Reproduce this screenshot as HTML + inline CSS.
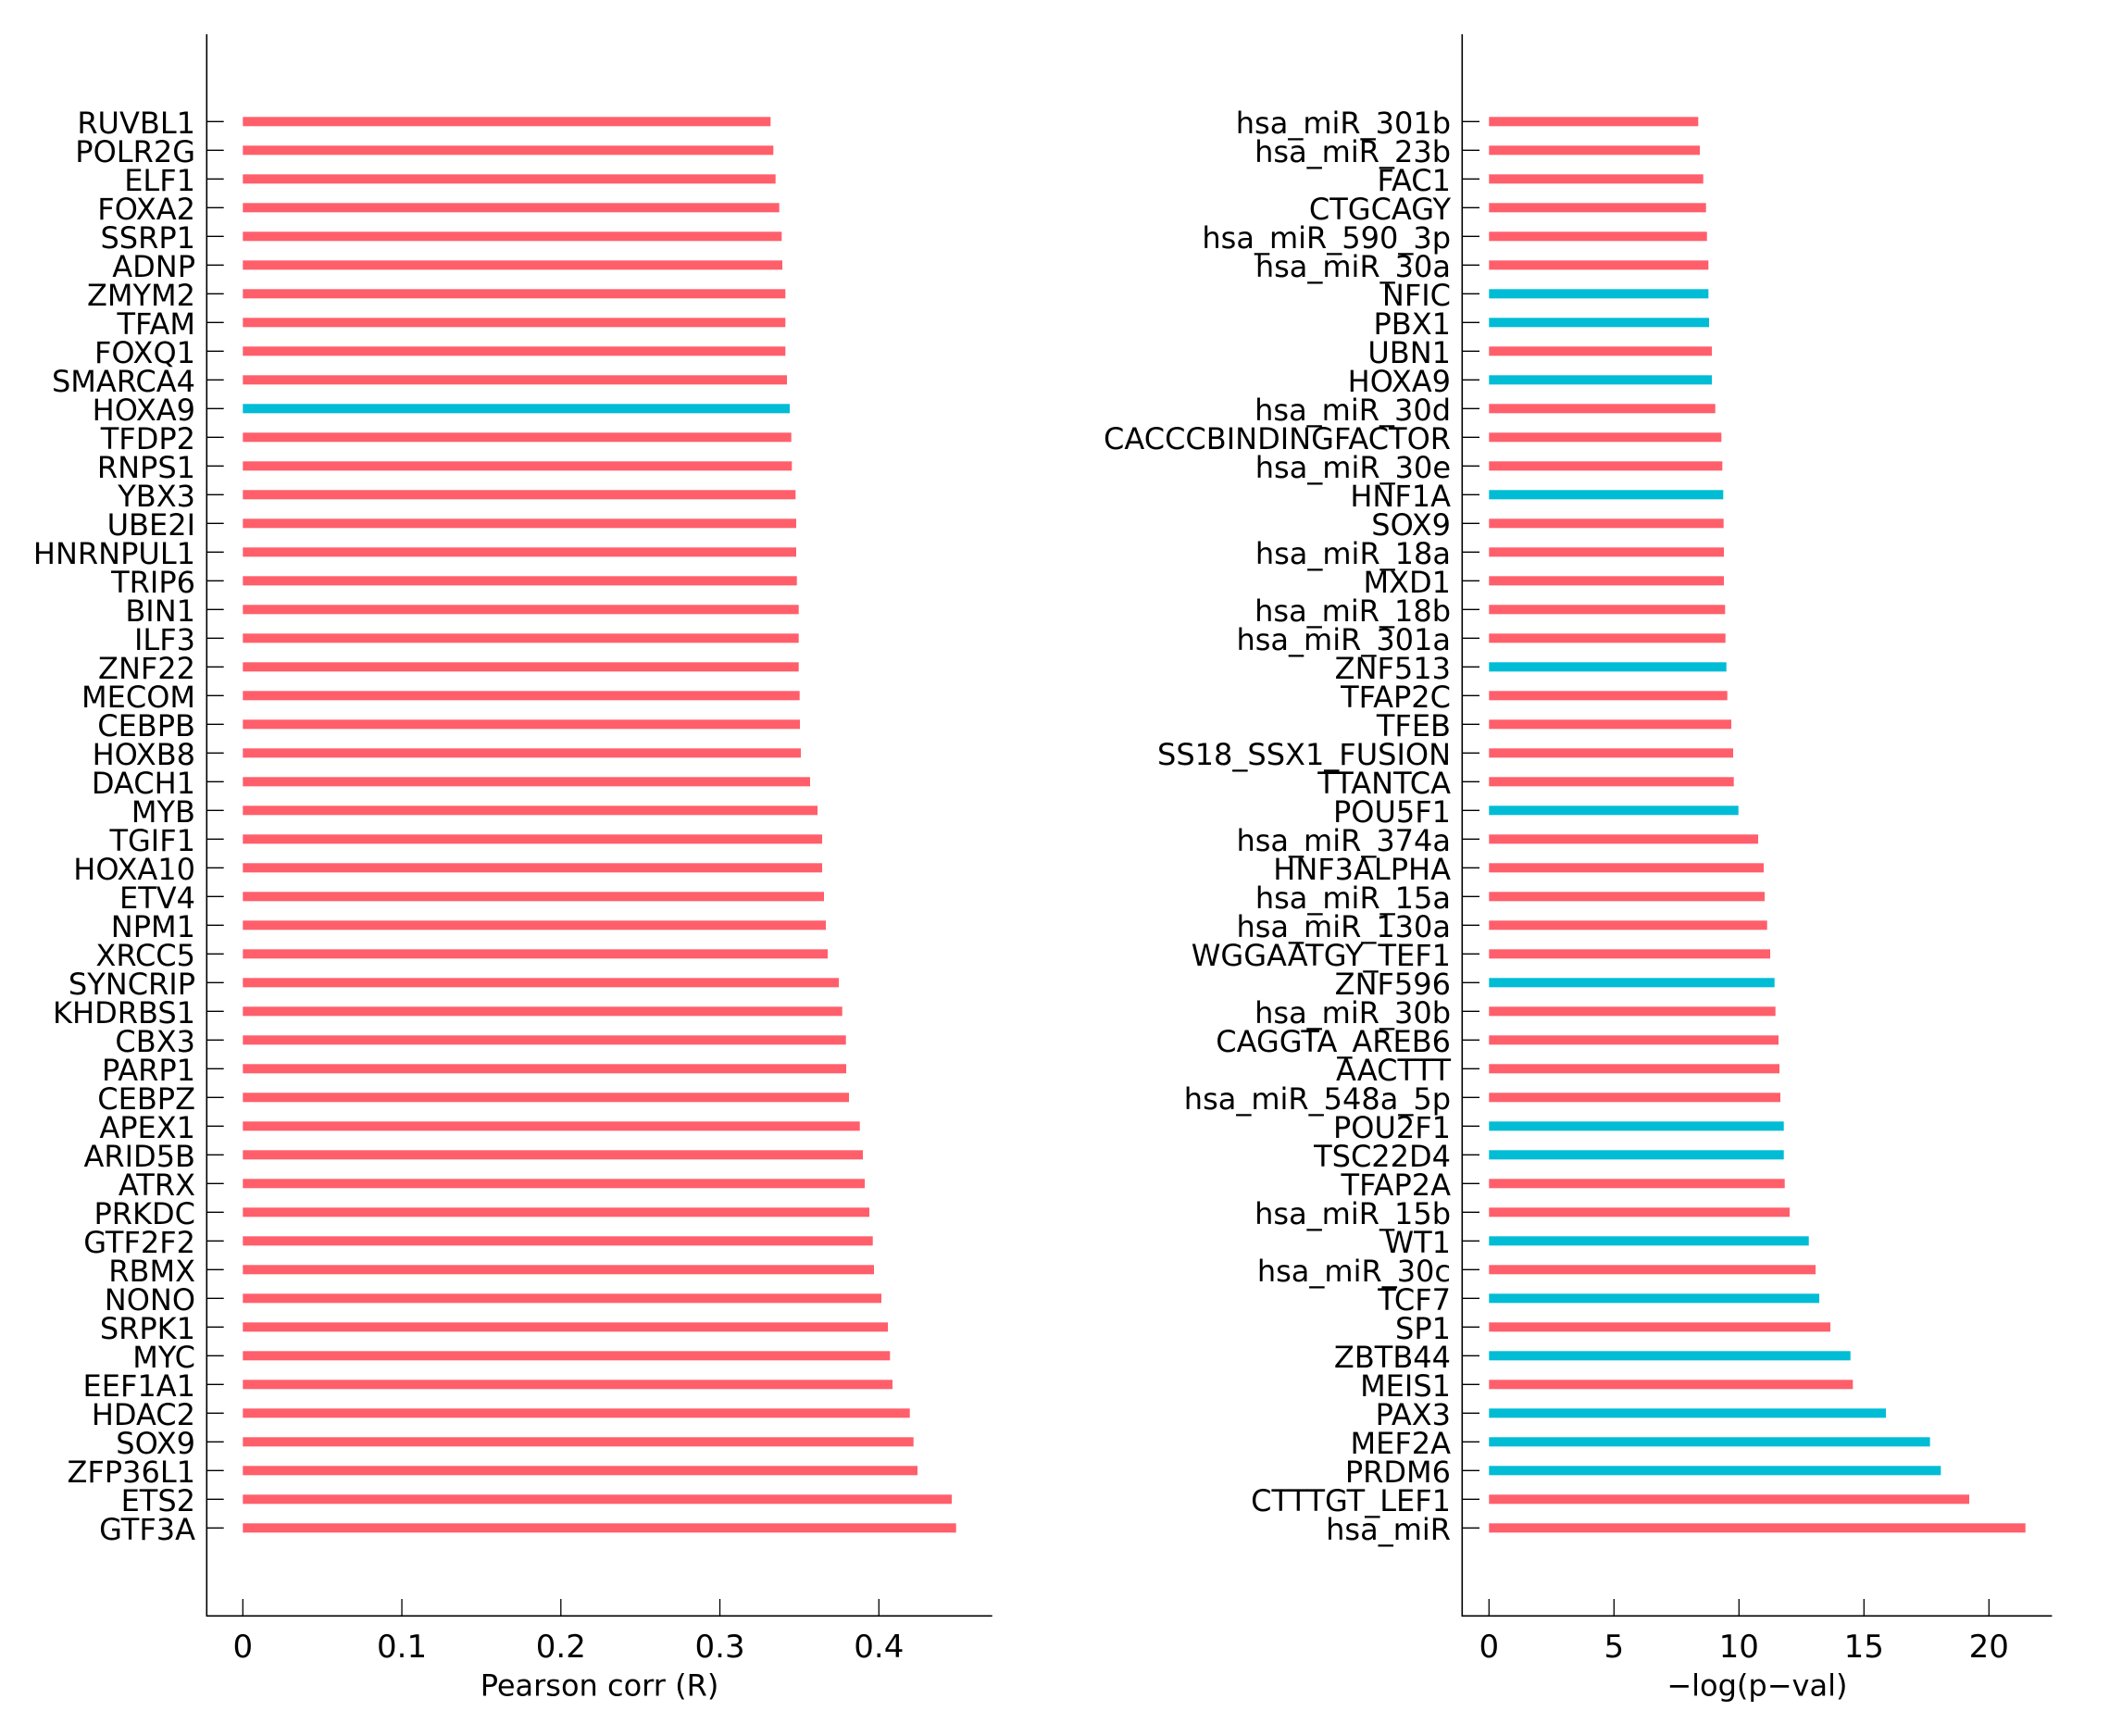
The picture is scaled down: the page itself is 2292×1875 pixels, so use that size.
<!DOCTYPE html>
<html><head><meta charset="utf-8"><style>
html,body{margin:0;padding:0;background:#fff;}
svg{display:block;}
text{font-family:"DejaVu Sans","Liberation Sans",sans-serif;fill:#000;}
.r{fill:#ff5f6b}.b{fill:#00bcd5}
.lab{font-size:32px;text-anchor:end}
.tk{stroke:#000;stroke-width:1.3}
.ax{stroke:#000;stroke-width:1.6;fill:none}
.tl{font-size:34px;text-anchor:middle}
.xl{font-size:32px;text-anchor:middle}
</style></head><body>
<svg width="2292" height="1875" viewBox="0 0 2292 1875" xmlns="http://www.w3.org/2000/svg">
<rect width="2292" height="1875" fill="#fff"/>
<!-- LEFT PANEL -->
<g id="L">
<g transform="translate(0,131.3)"><rect class="r" x="262.3" y="-5" width="570" height="10"/><line class="tk" x1="223.3" x2="241.7" y1="0" y2="0"/><text class="lab" x="211" y="12.5">RUVBL1</text></g>
<g transform="translate(0,162.3)"><rect class="r" x="262.3" y="-5" width="573" height="10"/><line class="tk" x1="223.3" x2="241.7" y1="0" y2="0"/><text class="lab" x="211" y="12.5">POLR2G</text></g>
<g transform="translate(0,193.3)"><rect class="r" x="262.3" y="-5" width="575.4" height="10"/><line class="tk" x1="223.3" x2="241.7" y1="0" y2="0"/><text class="lab" x="211" y="12.5">ELF1</text></g>
<g transform="translate(0,224.3)"><rect class="r" x="262.3" y="-5" width="579.4" height="10"/><line class="tk" x1="223.3" x2="241.7" y1="0" y2="0"/><text class="lab" x="211" y="12.5">FOXA2</text></g>
<g transform="translate(0,255.3)"><rect class="r" x="262.3" y="-5" width="582" height="10"/><line class="tk" x1="223.3" x2="241.7" y1="0" y2="0"/><text class="lab" x="211" y="12.5">SSRP1</text></g>
<g transform="translate(0,286.3)"><rect class="r" x="262.3" y="-5" width="582.7" height="10"/><line class="tk" x1="223.3" x2="241.7" y1="0" y2="0"/><text class="lab" x="211" y="12.5">ADNP</text></g>
<g transform="translate(0,317.3)"><rect class="r" x="262.3" y="-5" width="586" height="10"/><line class="tk" x1="223.3" x2="241.7" y1="0" y2="0"/><text class="lab" x="211" y="12.5">ZMYM2</text></g>
<g transform="translate(0,348.3)"><rect class="r" x="262.3" y="-5" width="586" height="10"/><line class="tk" x1="223.3" x2="241.7" y1="0" y2="0"/><text class="lab" x="211" y="12.5">TFAM</text></g>
<g transform="translate(0,379.3)"><rect class="r" x="262.3" y="-5" width="586" height="10"/><line class="tk" x1="223.3" x2="241.7" y1="0" y2="0"/><text class="lab" x="211" y="12.5">FOXQ1</text></g>
<g transform="translate(0,410.3)"><rect class="r" x="262.3" y="-5" width="587.7" height="10"/><line class="tk" x1="223.3" x2="241.7" y1="0" y2="0"/><text class="lab" x="211" y="12.5">SMARCA4</text></g>
<g transform="translate(0,441.3)"><rect class="b" x="262.3" y="-5" width="590.7" height="10"/><line class="tk" x1="223.3" x2="241.7" y1="0" y2="0"/><text class="lab" x="211" y="12.5">HOXA9</text></g>
<g transform="translate(0,472.3)"><rect class="r" x="262.3" y="-5" width="592.4" height="10"/><line class="tk" x1="223.3" x2="241.7" y1="0" y2="0"/><text class="lab" x="211" y="12.5">TFDP2</text></g>
<g transform="translate(0,503.3)"><rect class="r" x="262.3" y="-5" width="593" height="10"/><line class="tk" x1="223.3" x2="241.7" y1="0" y2="0"/><text class="lab" x="211" y="12.5">RNPS1</text></g>
<g transform="translate(0,534.3)"><rect class="r" x="262.3" y="-5" width="597" height="10"/><line class="tk" x1="223.3" x2="241.7" y1="0" y2="0"/><text class="lab" x="211" y="12.5">YBX3</text></g>
<g transform="translate(0,565.3)"><rect class="r" x="262.3" y="-5" width="597.7" height="10"/><line class="tk" x1="223.3" x2="241.7" y1="0" y2="0"/><text class="lab" x="211" y="12.5">UBE2I</text></g>
<g transform="translate(0,596.3)"><rect class="r" x="262.3" y="-5" width="597.7" height="10"/><line class="tk" x1="223.3" x2="241.7" y1="0" y2="0"/><text class="lab" x="211" y="12.5">HNRNPUL1</text></g>
<g transform="translate(0,627.3)"><rect class="r" x="262.3" y="-5" width="598.4" height="10"/><line class="tk" x1="223.3" x2="241.7" y1="0" y2="0"/><text class="lab" x="211" y="12.5">TRIP6</text></g>
<g transform="translate(0,658.3)"><rect class="r" x="262.3" y="-5" width="600.4" height="10"/><line class="tk" x1="223.3" x2="241.7" y1="0" y2="0"/><text class="lab" x="211" y="12.5">BIN1</text></g>
<g transform="translate(0,689.3)"><rect class="r" x="262.3" y="-5" width="600.4" height="10"/><line class="tk" x1="223.3" x2="241.7" y1="0" y2="0"/><text class="lab" x="211" y="12.5">ILF3</text></g>
<g transform="translate(0,720.3)"><rect class="r" x="262.3" y="-5" width="600.4" height="10"/><line class="tk" x1="223.3" x2="241.7" y1="0" y2="0"/><text class="lab" x="211" y="12.5">ZNF22</text></g>
<g transform="translate(0,751.3)"><rect class="r" x="262.3" y="-5" width="601.4" height="10"/><line class="tk" x1="223.3" x2="241.7" y1="0" y2="0"/><text class="lab" x="211" y="12.5">MECOM</text></g>
<g transform="translate(0,782.3)"><rect class="r" x="262.3" y="-5" width="601.7" height="10"/><line class="tk" x1="223.3" x2="241.7" y1="0" y2="0"/><text class="lab" x="211" y="12.5">CEBPB</text></g>
<g transform="translate(0,813.3)"><rect class="r" x="262.3" y="-5" width="602.7" height="10"/><line class="tk" x1="223.3" x2="241.7" y1="0" y2="0"/><text class="lab" x="211" y="12.5">HOXB8</text></g>
<g transform="translate(0,844.3)"><rect class="r" x="262.3" y="-5" width="612.7" height="10"/><line class="tk" x1="223.3" x2="241.7" y1="0" y2="0"/><text class="lab" x="211" y="12.5">DACH1</text></g>
<g transform="translate(0,875.3)"><rect class="r" x="262.3" y="-5" width="620.7" height="10"/><line class="tk" x1="223.3" x2="241.7" y1="0" y2="0"/><text class="lab" x="211" y="12.5">MYB</text></g>
<g transform="translate(0,906.3)"><rect class="r" x="262.3" y="-5" width="625.7" height="10"/><line class="tk" x1="223.3" x2="241.7" y1="0" y2="0"/><text class="lab" x="211" y="12.5">TGIF1</text></g>
<g transform="translate(0,937.3)"><rect class="r" x="262.3" y="-5" width="625.7" height="10"/><line class="tk" x1="223.3" x2="241.7" y1="0" y2="0"/><text class="lab" x="211" y="12.5">HOXA10</text></g>
<g transform="translate(0,968.3)"><rect class="r" x="262.3" y="-5" width="627.7" height="10"/><line class="tk" x1="223.3" x2="241.7" y1="0" y2="0"/><text class="lab" x="211" y="12.5">ETV4</text></g>
<g transform="translate(0,999.3)"><rect class="r" x="262.3" y="-5" width="629.7" height="10"/><line class="tk" x1="223.3" x2="241.7" y1="0" y2="0"/><text class="lab" x="211" y="12.5">NPM1</text></g>
<g transform="translate(0,1030.3)"><rect class="r" x="262.3" y="-5" width="631.7" height="10"/><line class="tk" x1="223.3" x2="241.7" y1="0" y2="0"/><text class="lab" x="211" y="12.5">XRCC5</text></g>
<g transform="translate(0,1061.3)"><rect class="r" x="262.3" y="-5" width="643.7" height="10"/><line class="tk" x1="223.3" x2="241.7" y1="0" y2="0"/><text class="lab" x="211" y="12.5">SYNCRIP</text></g>
<g transform="translate(0,1092.3)"><rect class="r" x="262.3" y="-5" width="647.4" height="10"/><line class="tk" x1="223.3" x2="241.7" y1="0" y2="0"/><text class="lab" x="211" y="12.5">KHDRBS1</text></g>
<g transform="translate(0,1123.3)"><rect class="r" x="262.3" y="-5" width="651.4" height="10"/><line class="tk" x1="223.3" x2="241.7" y1="0" y2="0"/><text class="lab" x="211" y="12.5">CBX3</text></g>
<g transform="translate(0,1154.3)"><rect class="r" x="262.3" y="-5" width="651.7" height="10"/><line class="tk" x1="223.3" x2="241.7" y1="0" y2="0"/><text class="lab" x="211" y="12.5">PARP1</text></g>
<g transform="translate(0,1185.3)"><rect class="r" x="262.3" y="-5" width="654.7" height="10"/><line class="tk" x1="223.3" x2="241.7" y1="0" y2="0"/><text class="lab" x="211" y="12.5">CEBPZ</text></g>
<g transform="translate(0,1216.3)"><rect class="r" x="262.3" y="-5" width="666.4" height="10"/><line class="tk" x1="223.3" x2="241.7" y1="0" y2="0"/><text class="lab" x="211" y="12.5">APEX1</text></g>
<g transform="translate(0,1247.3)"><rect class="r" x="262.3" y="-5" width="669.7" height="10"/><line class="tk" x1="223.3" x2="241.7" y1="0" y2="0"/><text class="lab" x="211" y="12.5">ARID5B</text></g>
<g transform="translate(0,1278.3)"><rect class="r" x="262.3" y="-5" width="671.7" height="10"/><line class="tk" x1="223.3" x2="241.7" y1="0" y2="0"/><text class="lab" x="211" y="12.5">ATRX</text></g>
<g transform="translate(0,1309.3)"><rect class="r" x="262.3" y="-5" width="676.7" height="10"/><line class="tk" x1="223.3" x2="241.7" y1="0" y2="0"/><text class="lab" x="211" y="12.5">PRKDC</text></g>
<g transform="translate(0,1340.3)"><rect class="r" x="262.3" y="-5" width="680.4" height="10"/><line class="tk" x1="223.3" x2="241.7" y1="0" y2="0"/><text class="lab" x="211" y="12.5">GTF2F2</text></g>
<g transform="translate(0,1371.3)"><rect class="r" x="262.3" y="-5" width="681.7" height="10"/><line class="tk" x1="223.3" x2="241.7" y1="0" y2="0"/><text class="lab" x="211" y="12.5">RBMX</text></g>
<g transform="translate(0,1402.3)"><rect class="r" x="262.3" y="-5" width="689.7" height="10"/><line class="tk" x1="223.3" x2="241.7" y1="0" y2="0"/><text class="lab" x="211" y="12.5">NONO</text></g>
<g transform="translate(0,1433.3)"><rect class="r" x="262.3" y="-5" width="696.7" height="10"/><line class="tk" x1="223.3" x2="241.7" y1="0" y2="0"/><text class="lab" x="211" y="12.5">SRPK1</text></g>
<g transform="translate(0,1464.3)"><rect class="r" x="262.3" y="-5" width="699" height="10"/><line class="tk" x1="223.3" x2="241.7" y1="0" y2="0"/><text class="lab" x="211" y="12.5">MYC</text></g>
<g transform="translate(0,1495.3)"><rect class="r" x="262.3" y="-5" width="701.7" height="10"/><line class="tk" x1="223.3" x2="241.7" y1="0" y2="0"/><text class="lab" x="211" y="12.5">EEF1A1</text></g>
<g transform="translate(0,1526.3)"><rect class="r" x="262.3" y="-5" width="720.4" height="10"/><line class="tk" x1="223.3" x2="241.7" y1="0" y2="0"/><text class="lab" x="211" y="12.5">HDAC2</text></g>
<g transform="translate(0,1557.3)"><rect class="r" x="262.3" y="-5" width="724.4" height="10"/><line class="tk" x1="223.3" x2="241.7" y1="0" y2="0"/><text class="lab" x="211" y="12.5">SOX9</text></g>
<g transform="translate(0,1588.3)"><rect class="r" x="262.3" y="-5" width="728.7" height="10"/><line class="tk" x1="223.3" x2="241.7" y1="0" y2="0"/><text class="lab" x="211" y="12.5">ZFP36L1</text></g>
<g transform="translate(0,1619.3)"><rect class="r" x="262.3" y="-5" width="765.7" height="10"/><line class="tk" x1="223.3" x2="241.7" y1="0" y2="0"/><text class="lab" x="211" y="12.5">ETS2</text></g>
<g transform="translate(0,1650.3)"><rect class="r" x="262.3" y="-5" width="770.4" height="10"/><line class="tk" x1="223.3" x2="241.7" y1="0" y2="0"/><text class="lab" x="211" y="12.5">GTF3A</text></g>
</g>
<path class="ax" d="M223.3 37 L223.3 1745.3 L1071.7 1745.3"/>
<line class="tk" x1="262.3" x2="262.3" y1="1727" y2="1745.3"/>
<line class="tk" x1="434.05" x2="434.05" y1="1727" y2="1745.3"/>
<line class="tk" x1="605.8" x2="605.8" y1="1727" y2="1745.3"/>
<line class="tk" x1="777.55" x2="777.55" y1="1727" y2="1745.3"/>
<line class="tk" x1="949.3" x2="949.3" y1="1727" y2="1745.3"/>
<text class="tl" x="262.3" y="1790">0</text>
<text class="tl" x="434.05" y="1790">0.1</text>
<text class="tl" x="605.8" y="1790">0.2</text>
<text class="tl" x="777.55" y="1790">0.3</text>
<text class="tl" x="949.3" y="1790">0.4</text>
<text class="xl" x="647.5" y="1831.7">Pearson corr (R)</text>

<!-- RIGHT PANEL -->
<g id="R">
<g transform="translate(0,131.3)"><rect class="r" x="1608.3" y="-5" width="226" height="10"/><line class="tk" x1="1579.3" x2="1598" y1="0" y2="0"/><text class="lab" x="1567" y="12.5">hsa_miR_301b</text></g>
<g transform="translate(0,162.3)"><rect class="r" x="1608.3" y="-5" width="227.7" height="10"/><line class="tk" x1="1579.3" x2="1598" y1="0" y2="0"/><text class="lab" x="1567" y="12.5">hsa_miR_23b</text></g>
<g transform="translate(0,193.3)"><rect class="r" x="1608.3" y="-5" width="231.4" height="10"/><line class="tk" x1="1579.3" x2="1598" y1="0" y2="0"/><text class="lab" x="1567" y="12.5">FAC1</text></g>
<g transform="translate(0,224.3)"><rect class="r" x="1608.3" y="-5" width="234.4" height="10"/><line class="tk" x1="1579.3" x2="1598" y1="0" y2="0"/><text class="lab" x="1567" y="12.5">CTGCAGY</text></g>
<g transform="translate(0,255.3)"><rect class="r" x="1608.3" y="-5" width="235.4" height="10"/><line class="tk" x1="1579.3" x2="1598" y1="0" y2="0"/><text class="lab" x="1567" y="12.5">hsa_miR_590_3p</text></g>
<g transform="translate(0,286.3)"><rect class="r" x="1608.3" y="-5" width="237" height="10"/><line class="tk" x1="1579.3" x2="1598" y1="0" y2="0"/><text class="lab" x="1567" y="12.5">hsa_miR_30a</text></g>
<g transform="translate(0,317.3)"><rect class="b" x="1608.3" y="-5" width="237" height="10"/><line class="tk" x1="1579.3" x2="1598" y1="0" y2="0"/><text class="lab" x="1567" y="12.5">NFIC</text></g>
<g transform="translate(0,348.3)"><rect class="b" x="1608.3" y="-5" width="237.7" height="10"/><line class="tk" x1="1579.3" x2="1598" y1="0" y2="0"/><text class="lab" x="1567" y="12.5">PBX1</text></g>
<g transform="translate(0,379.3)"><rect class="r" x="1608.3" y="-5" width="240.7" height="10"/><line class="tk" x1="1579.3" x2="1598" y1="0" y2="0"/><text class="lab" x="1567" y="12.5">UBN1</text></g>
<g transform="translate(0,410.3)"><rect class="b" x="1608.3" y="-5" width="240.7" height="10"/><line class="tk" x1="1579.3" x2="1598" y1="0" y2="0"/><text class="lab" x="1567" y="12.5">HOXA9</text></g>
<g transform="translate(0,441.3)"><rect class="r" x="1608.3" y="-5" width="244.4" height="10"/><line class="tk" x1="1579.3" x2="1598" y1="0" y2="0"/><text class="lab" x="1567" y="12.5">hsa_miR_30d</text></g>
<g transform="translate(0,472.3)"><rect class="r" x="1608.3" y="-5" width="251" height="10"/><line class="tk" x1="1579.3" x2="1598" y1="0" y2="0"/><text class="lab" x="1567" y="12.5">CACCCBINDINGFACTOR</text></g>
<g transform="translate(0,503.3)"><rect class="r" x="1608.3" y="-5" width="252" height="10"/><line class="tk" x1="1579.3" x2="1598" y1="0" y2="0"/><text class="lab" x="1567" y="12.5">hsa_miR_30e</text></g>
<g transform="translate(0,534.3)"><rect class="b" x="1608.3" y="-5" width="253" height="10"/><line class="tk" x1="1579.3" x2="1598" y1="0" y2="0"/><text class="lab" x="1567" y="12.5">HNF1A</text></g>
<g transform="translate(0,565.3)"><rect class="r" x="1608.3" y="-5" width="253.4" height="10"/><line class="tk" x1="1579.3" x2="1598" y1="0" y2="0"/><text class="lab" x="1567" y="12.5">SOX9</text></g>
<g transform="translate(0,596.3)"><rect class="r" x="1608.3" y="-5" width="253.7" height="10"/><line class="tk" x1="1579.3" x2="1598" y1="0" y2="0"/><text class="lab" x="1567" y="12.5">hsa_miR_18a</text></g>
<g transform="translate(0,627.3)"><rect class="r" x="1608.3" y="-5" width="253.7" height="10"/><line class="tk" x1="1579.3" x2="1598" y1="0" y2="0"/><text class="lab" x="1567" y="12.5">MXD1</text></g>
<g transform="translate(0,658.3)"><rect class="r" x="1608.3" y="-5" width="255" height="10"/><line class="tk" x1="1579.3" x2="1598" y1="0" y2="0"/><text class="lab" x="1567" y="12.5">hsa_miR_18b</text></g>
<g transform="translate(0,689.3)"><rect class="r" x="1608.3" y="-5" width="255.4" height="10"/><line class="tk" x1="1579.3" x2="1598" y1="0" y2="0"/><text class="lab" x="1567" y="12.5">hsa_miR_301a</text></g>
<g transform="translate(0,720.3)"><rect class="b" x="1608.3" y="-5" width="256.4" height="10"/><line class="tk" x1="1579.3" x2="1598" y1="0" y2="0"/><text class="lab" x="1567" y="12.5">ZNF513</text></g>
<g transform="translate(0,751.3)"><rect class="r" x="1608.3" y="-5" width="257.4" height="10"/><line class="tk" x1="1579.3" x2="1598" y1="0" y2="0"/><text class="lab" x="1567" y="12.5">TFAP2C</text></g>
<g transform="translate(0,782.3)"><rect class="r" x="1608.3" y="-5" width="261.7" height="10"/><line class="tk" x1="1579.3" x2="1598" y1="0" y2="0"/><text class="lab" x="1567" y="12.5">TFEB</text></g>
<g transform="translate(0,813.3)"><rect class="r" x="1608.3" y="-5" width="263.7" height="10"/><line class="tk" x1="1579.3" x2="1598" y1="0" y2="0"/><text class="lab" x="1567" y="12.5">SS18_SSX1_FUSION</text></g>
<g transform="translate(0,844.3)"><rect class="r" x="1608.3" y="-5" width="264.4" height="10"/><line class="tk" x1="1579.3" x2="1598" y1="0" y2="0"/><text class="lab" x="1567" y="12.5">TTANTCA</text></g>
<g transform="translate(0,875.3)"><rect class="b" x="1608.3" y="-5" width="269.4" height="10"/><line class="tk" x1="1579.3" x2="1598" y1="0" y2="0"/><text class="lab" x="1567" y="12.5">POU5F1</text></g>
<g transform="translate(0,906.3)"><rect class="r" x="1608.3" y="-5" width="290.7" height="10"/><line class="tk" x1="1579.3" x2="1598" y1="0" y2="0"/><text class="lab" x="1567" y="12.5">hsa_miR_374a</text></g>
<g transform="translate(0,937.3)"><rect class="r" x="1608.3" y="-5" width="296.7" height="10"/><line class="tk" x1="1579.3" x2="1598" y1="0" y2="0"/><text class="lab" x="1567" y="12.5">HNF3ALPHA</text></g>
<g transform="translate(0,968.3)"><rect class="r" x="1608.3" y="-5" width="297.7" height="10"/><line class="tk" x1="1579.3" x2="1598" y1="0" y2="0"/><text class="lab" x="1567" y="12.5">hsa_miR_15a</text></g>
<g transform="translate(0,999.3)"><rect class="r" x="1608.3" y="-5" width="300.4" height="10"/><line class="tk" x1="1579.3" x2="1598" y1="0" y2="0"/><text class="lab" x="1567" y="12.5">hsa_miR_130a</text></g>
<g transform="translate(0,1030.3)"><rect class="r" x="1608.3" y="-5" width="303.7" height="10"/><line class="tk" x1="1579.3" x2="1598" y1="0" y2="0"/><text class="lab" x="1567" y="12.5">WGGAATGY_TEF1</text></g>
<g transform="translate(0,1061.3)"><rect class="b" x="1608.3" y="-5" width="308.4" height="10"/><line class="tk" x1="1579.3" x2="1598" y1="0" y2="0"/><text class="lab" x="1567" y="12.5">ZNF596</text></g>
<g transform="translate(0,1092.3)"><rect class="r" x="1608.3" y="-5" width="309.4" height="10"/><line class="tk" x1="1579.3" x2="1598" y1="0" y2="0"/><text class="lab" x="1567" y="12.5">hsa_miR_30b</text></g>
<g transform="translate(0,1123.3)"><rect class="r" x="1608.3" y="-5" width="312.7" height="10"/><line class="tk" x1="1579.3" x2="1598" y1="0" y2="0"/><text class="lab" x="1567" y="12.5">CAGGTA_AREB6</text></g>
<g transform="translate(0,1154.3)"><rect class="r" x="1608.3" y="-5" width="313.7" height="10"/><line class="tk" x1="1579.3" x2="1598" y1="0" y2="0"/><text class="lab" x="1567" y="12.5">AACTTT</text></g>
<g transform="translate(0,1185.3)"><rect class="r" x="1608.3" y="-5" width="314.7" height="10"/><line class="tk" x1="1579.3" x2="1598" y1="0" y2="0"/><text class="lab" x="1567" y="12.5">hsa_miR_548a_5p</text></g>
<g transform="translate(0,1216.3)"><rect class="b" x="1608.3" y="-5" width="318.4" height="10"/><line class="tk" x1="1579.3" x2="1598" y1="0" y2="0"/><text class="lab" x="1567" y="12.5">POU2F1</text></g>
<g transform="translate(0,1247.3)"><rect class="b" x="1608.3" y="-5" width="318.4" height="10"/><line class="tk" x1="1579.3" x2="1598" y1="0" y2="0"/><text class="lab" x="1567" y="12.5">TSC22D4</text></g>
<g transform="translate(0,1278.3)"><rect class="r" x="1608.3" y="-5" width="319.4" height="10"/><line class="tk" x1="1579.3" x2="1598" y1="0" y2="0"/><text class="lab" x="1567" y="12.5">TFAP2A</text></g>
<g transform="translate(0,1309.3)"><rect class="r" x="1608.3" y="-5" width="324.7" height="10"/><line class="tk" x1="1579.3" x2="1598" y1="0" y2="0"/><text class="lab" x="1567" y="12.5">hsa_miR_15b</text></g>
<g transform="translate(0,1340.3)"><rect class="b" x="1608.3" y="-5" width="345.4" height="10"/><line class="tk" x1="1579.3" x2="1598" y1="0" y2="0"/><text class="lab" x="1567" y="12.5">WT1</text></g>
<g transform="translate(0,1371.3)"><rect class="r" x="1608.3" y="-5" width="352.7" height="10"/><line class="tk" x1="1579.3" x2="1598" y1="0" y2="0"/><text class="lab" x="1567" y="12.5">hsa_miR_30c</text></g>
<g transform="translate(0,1402.3)"><rect class="b" x="1608.3" y="-5" width="356.7" height="10"/><line class="tk" x1="1579.3" x2="1598" y1="0" y2="0"/><text class="lab" x="1567" y="12.5">TCF7</text></g>
<g transform="translate(0,1433.3)"><rect class="r" x="1608.3" y="-5" width="368.7" height="10"/><line class="tk" x1="1579.3" x2="1598" y1="0" y2="0"/><text class="lab" x="1567" y="12.5">SP1</text></g>
<g transform="translate(0,1464.3)"><rect class="b" x="1608.3" y="-5" width="390.4" height="10"/><line class="tk" x1="1579.3" x2="1598" y1="0" y2="0"/><text class="lab" x="1567" y="12.5">ZBTB44</text></g>
<g transform="translate(0,1495.3)"><rect class="r" x="1608.3" y="-5" width="393" height="10"/><line class="tk" x1="1579.3" x2="1598" y1="0" y2="0"/><text class="lab" x="1567" y="12.5">MEIS1</text></g>
<g transform="translate(0,1526.3)"><rect class="b" x="1608.3" y="-5" width="428.7" height="10"/><line class="tk" x1="1579.3" x2="1598" y1="0" y2="0"/><text class="lab" x="1567" y="12.5">PAX3</text></g>
<g transform="translate(0,1557.3)"><rect class="b" x="1608.3" y="-5" width="476.3" height="10"/><line class="tk" x1="1579.3" x2="1598" y1="0" y2="0"/><text class="lab" x="1567" y="12.5">MEF2A</text></g>
<g transform="translate(0,1588.3)"><rect class="b" x="1608.3" y="-5" width="488" height="10"/><line class="tk" x1="1579.3" x2="1598" y1="0" y2="0"/><text class="lab" x="1567" y="12.5">PRDM6</text></g>
<g transform="translate(0,1619.3)"><rect class="r" x="1608.3" y="-5" width="518.7" height="10"/><line class="tk" x1="1579.3" x2="1598" y1="0" y2="0"/><text class="lab" x="1567" y="12.5">CTTTGT_LEF1</text></g>
<g transform="translate(0,1650.3)"><rect class="r" x="1608.3" y="-5" width="579.4" height="10"/><line class="tk" x1="1579.3" x2="1598" y1="0" y2="0"/><text class="lab" x="1567" y="12.5">hsa_miR</text></g>
</g>
<path class="ax" d="M1579.3 37 L1579.3 1745.3 L2216.4 1745.3"/>
<line class="tk" x1="1608.3" x2="1608.3" y1="1727" y2="1745.3"/>
<line class="tk" x1="1743.3" x2="1743.3" y1="1727" y2="1745.3"/>
<line class="tk" x1="1878.3" x2="1878.3" y1="1727" y2="1745.3"/>
<line class="tk" x1="2013.3" x2="2013.3" y1="1727" y2="1745.3"/>
<line class="tk" x1="2148.3" x2="2148.3" y1="1727" y2="1745.3"/>
<text class="tl" x="1608.3" y="1790">0</text>
<text class="tl" x="1743.3" y="1790">5</text>
<text class="tl" x="1878.3" y="1790">10</text>
<text class="tl" x="2013.3" y="1790">15</text>
<text class="tl" x="2148.3" y="1790">20</text>
<text class="xl" x="1897.9" y="1831.7">−log(p−val)</text>
</svg>
</body></html>
